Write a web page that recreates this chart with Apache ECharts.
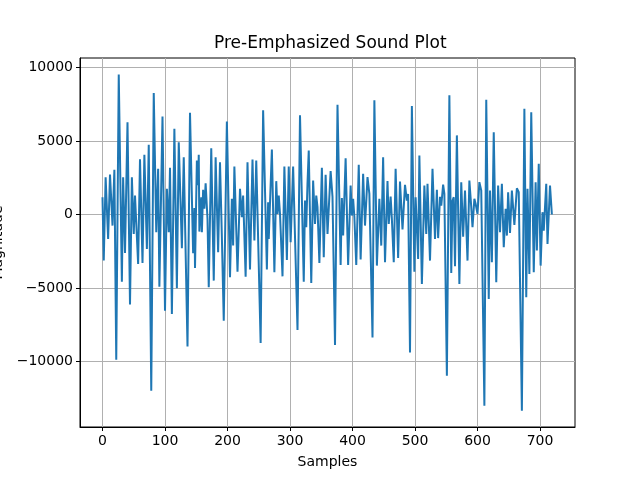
<!DOCTYPE html>
<html>
<head>
<meta charset="utf-8">
<script src="https://cdn.jsdelivr.net/npm/echarts@6/dist/echarts.min.js"></script>
<style>
html, body { margin: 0; padding: 0; background: #fff; }
#draw { width: 640px; height: 480px; }
</style>
</head>
<body>
<div id="draw"></div>
<script>
// turning points: sample index and magnitude
var samples = [
	0, 2, 5, 9, 12, 16, 19, 22, 26, 31, 33, 36, 40, 44, 47, 50, 52, 57, 60, 64,
	67, 71, 74, 78, 82, 86, 89, 91, 96, 100, 103, 106, 108, 111, 115, 119, 122, 127, 130, 136,
	140, 145, 147, 148, 151, 153, 154, 155, 158, 159, 161, 163, 165, 168, 170, 174, 178, 181, 185, 188,
	191, 194, 199, 204, 207, 209, 211, 216, 220, 222, 223, 225, 229, 232, 236, 240, 243, 246, 253, 257,
	263, 265, 266, 271, 275, 278, 280, 282, 284, 288, 291, 295, 298, 301, 305, 312, 316, 322, 324, 326,
	328, 330, 334, 337, 340, 342, 344, 347, 351, 354, 357, 360, 365, 368, 372, 376, 381, 383, 385, 389,
	393, 397, 399, 401, 403, 406, 410, 413, 417, 420, 424, 427, 432, 435, 439, 443, 446, 449, 452, 456,
	458, 461, 463, 466, 469, 473, 476, 480, 484, 487, 489, 492, 495, 499, 501, 505, 507, 511, 515, 518,
	520, 524, 528, 532, 535, 537, 540, 542, 545, 547, 551, 555, 558, 560, 562, 564, 567, 571, 574, 577,
	580, 584, 587, 590, 592, 595, 597, 600, 603, 606, 611, 614, 618, 620, 623, 626, 630, 633, 636, 639,
	642, 645, 647, 649, 652, 655, 659, 663, 666, 668, 671, 675, 678, 680, 683, 686, 690, 693, 695, 698,
	701, 704, 706, 710, 712, 716, 719
];
var magnitude = [
	1180, -3130, 2540, -1660, 2720, -750, 3040, -9870, 9525, -4560, 2540, -2610, 6280, -6120, 2540, -1320, 1290, -3360, 3760, -3290,
	4060, -2340, 4740, -11970, 8255, -1200, 3110, -4900, 6670, -6530, 1750, -1200, 3175, -6760, 5830, -5010, 4920, -2290, 3900, -8960,
	6920, -2630, 450, -3630, 3670, 2000, 4060, -1160, 1180, -1200, 1680, 390, 2130, -300, -4940, 4510, -4490, 3900, -2560, 3560,
	-1540, -7210, 6330, -4260, 1070, -2110, 3270, -3880, 1750, 1860, -180, 1290, -4220, 3560, -3740, 3740, -1770, 3670, -8730, 7080,
	-3740, 840, -1660, 4420, -3920, 2270, 45, 1290, 45, -4200, 3270, -3080, 3270, -1880, 3270, -7850, 6740, -4560, 950, -860,
	2130, 4350, -4650, 2310, -635, 1290, 500, -3290, 3175, -2900, 2700, -1320, 2950, 1200, -8870, 7460, -3420, 1130, -1430, 3830,
	-3420, 1970, -70, 1070, -180, -3420, 3380, -3060, 2770, -750, 2540, 1400, -8350, 7760, -3470, 1070, -2110, 3900, -3240, 2270,
	-635, 1220, -300, -3240, 3110, -2950, 2250, -1020, 2020, 950, 1400, -9370, 7370, -3880, 1180, -3020, 4010, -4720, 1970, -1320,
	2090, -3130, 3110, -1660, 1680, -1600, 1200, 600, 2040, 1400, -10950, 8100, -3970, 950, 1180, -3520, 5380, -4720, 2200, -1500,
	1630, -3130, 2310, 500, -860, 1070, 730, 45, 2200, 1630, -13000, 7800, -5740, 1630, -3240, 5600, -4600, 1970, -1200, 2090,
	-2220, 390, -1430, 1520, -1250, 1630, -700, 1790, 1520, 1400, -13340, 7190, -5620, 1750, -4040, 6960, -3920, 2200, -2450, 3450,
	-3470, 160, -1090, 2090, -2000, 1970, 0
];
var xTicks = [0, 100, 200, 300, 400, 500, 600, 700];
var yTicks = [-10000, -5000, 0, 5000, 10000];

var myChart = echarts.init(document.getElementById('draw'));

var points = samples.map(function(s, i) {
	return [s, magnitude[i]];
});

var fontFamily = 'DejaVu Sans';
var minusSign = function(v) {
	return String(v).replace('-', '\u2212');
};

option = {
	animation : false,
	backgroundColor : '#fff',
	title : {
		text : 'Pre-Emphasized Sound Plot',
		left : 214,
		top : 35,
		padding : 0,
		textStyle : {
			fontFamily : fontFamily,
			fontSize : 17,
			fontWeight : 'normal',
			color : '#000'
		}
	},
	grid : {
		left : 80,
		right : 65,
		top : 58,
		bottom : 53,
		show : true,
		borderColor : '#000',
		borderWidth : 1,
		containLabel : false,
		outerBoundsMode : 'none'
	},
	xAxis : {
		type : 'value',
		min : -36,
		max : 756,
		name : 'Samples',
		nameLocation : 'middle',
		nameGap : 28,
		nameTextStyle : {
			fontFamily : fontFamily,
			fontSize : 14,
			color : '#000'
		},
		axisLine : {
			show : true,
			onZero : false,
			lineStyle : { color : '#000', width : 1 }
		},
		axisTick : {
			show : true,
			length : 4,
			customValues : xTicks,
			lineStyle : { color : '#000' }
		},
		axisLabel : {
			customValues : xTicks,
			margin : 7,
			fontFamily : fontFamily,
			fontSize : 14,
			color : '#000',
			formatter : minusSign
		},
		splitLine : {
			show : true,
			lineStyle : { color : '#b0b0b0', width : 1 }
		}
	},
	yAxis : {
		type : 'value',
		min : -14440,
		max : 10640,
		name : 'Magnitude',
		nameLocation : 'middle',
		nameGap : 69,
		nameTextStyle : {
			fontFamily : fontFamily,
			fontSize : 14,
			color : '#000'
		},
		axisLine : {
			show : true,
			onZero : false,
			lineStyle : { color : '#000', width : 1 }
		},
		axisTick : {
			show : true,
			length : 4,
			customValues : yTicks,
			lineStyle : { color : '#000' }
		},
		axisLabel : {
			customValues : yTicks,
			margin : 7,
			fontFamily : fontFamily,
			fontSize : 14,
			color : '#000',
			formatter : minusSign
		},
		splitLine : {
			show : true,
			lineStyle : { color : '#b0b0b0', width : 1 }
		}
	},
	series : [ {
		name : 'Magnitude',
		type : 'line',
		data : points,
		showSymbol : false,
		symbol : 'none',
		lineStyle : {
			color : '#1f77b4',
			width : 2
		}
	} ]
};
myChart.setOption(option);
</script>
</body>
</html>
